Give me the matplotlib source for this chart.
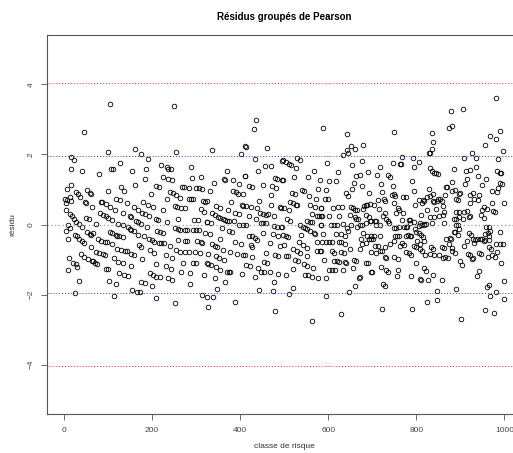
import matplotlib
matplotlib.use('Agg')
import matplotlib.pyplot as plt
import numpy as np

plt.rcParams['font.family'] = ['Liberation Sans', 'DejaVu Sans']

# --- Texts / reference values ---
TITLE = 'Résidus groupés de Pearson'
XLABEL = 'classe de risque'
YLABEL = 'résidu'
X_TICKS = [0, 200, 400, 600, 800, 1000]
Y_TICKS = [-4, -2, 0, 2, 4]
SEUIL_BLEU = 1.96
SEUIL_ROUGE = 4.05

# --- (classe, residu), by slices of classes ---
pts_0_65 = [(45, 2.63), (17, 1.92), (23, 1.83), (17, 1.58), (42, 1.52), (15, 1.14), (7, 1.00), (27, 0.93), (31, 0.86),
            (36, 0.79), (52, 0.99), (58, 0.91), (61, 0.88), (2, 0.73), (7, 0.70), (13, 0.78), (17, 0.67), (5, 0.60),
            (48, 0.63), (50, 0.60), (63, 0.50), (4, 0.40), (14, 0.30), (19, 0.23), (23, 0.15), (51, 0.19), (56, 0.17),
            (28, 0.07), (34, 0.01), (40, -0.06), (10, -0.01), (14, -0.10), (5, -0.19), (52, -0.21), (58, -0.26),
            (61, -0.29), (25, -0.30), (30, -0.33), (34, -0.40), (40, -0.46), (45, -0.53), (8, -0.40), (61, -0.65),
            (39, -0.84), (46, -0.93), (55, -0.99), (63, -1.05), (11, -0.95), (21, -1.09), (28, -1.14), (30, -1.20),
            (8, -1.31), (34, -1.60), (24, -1.96)]
pts_65_150 = [(104, 3.43), (101, 2.06), (107, 1.58), (111, 1.58), (127, 1.77), (80, 1.45), (99, 0.95), (130, 1.07),
              (137, 0.97), (142, 0.61), (119, 0.72), (127, 0.70), (83, 0.65), (87, 0.65), (96, 0.59), (105, 0.51),
              (116, 0.42), (134, 0.32), (81, 0.32), (89, 0.27), (96, 0.23), (101, 0.19), (108, 0.13), (151, 0.23),
              (72, 0.02), (122, 0.02), (133, 0.00), (145, -0.08), (149, -0.13), (66, -0.25), (77, -0.40), (84, -0.46),
              (92, -0.50), (98, -0.50), (104, -0.21), (110, -0.25), (117, -0.30), (120, -0.34), (125, -0.34),
              (134, -0.36), (110, -0.57), (120, -0.69), (130, -0.72), (139, -0.76), (143, -0.76), (72, -0.78),
              (80, -0.80), (89, -0.84), (93, -0.86), (114, -0.97), (122, -1.07), (133, -1.09), (66, -1.05),
              (70, -1.09), (75, -1.12), (95, -1.26), (101, -1.26), (124, -1.39), (137, -1.45), (145, -1.47),
              (102, -1.62), (117, -1.71), (114, -2.04)]
pts_150_240 = [(161, 2.15), (175, 2.00), (190, 1.87), (221, 1.71), (234, 1.64), (237, 1.58), (155, 1.54), (187, 1.58),
               (225, 1.35), (183, 1.30), (237, 1.30), (161, 1.14), (208, 1.10), (216, 1.07), (198, 0.86), (233, 0.72),
               (180, 0.65), (190, 0.57), (202, 0.50), (158, 0.50), (168, 0.42), (177, 0.32), (184, 0.30), (193, 0.23),
               (224, 0.42), (152, 0.21), (208, 0.15), (213, 0.13), (164, 0.11), (169, 0.06), (174, 0.02), (189, -0.06),
               (234, 0.06), (152, -0.15), (158, -0.19), (169, -0.29), (181, -0.34), (193, -0.42), (199, -0.44),
               (205, -0.50), (211, -0.19), (218, -0.21), (224, -0.25), (216, -0.53), (221, -0.53), (228, -0.53),
               (171, -0.59), (175, -0.65), (195, -0.72), (205, -0.82), (152, -0.84), (160, -0.88), (178, -0.99),
               (231, -0.88), (152, -1.18), (210, -1.14), (231, -1.18), (195, -1.39), (201, -1.45), (210, -1.49),
               (218, -1.49), (236, -1.52), (175, -1.64), (183, -1.66), (199, -1.77), (155, -1.87), (166, -1.92),
               (172, -1.94), (208, -2.11)]
pts_240_325 = [(249, 3.39), (254, 2.08), (242, 1.58), (289, 1.64), (245, 1.26), (290, 1.33), (310, 1.35), (267, 1.07),
               (272, 1.07), (283, 1.05), (299, 1.05), (307, 1.03), (313, 1.01), (240, 0.93), (248, 0.91), (254, 0.84),
               (264, 0.76), (283, 0.74), (289, 0.74), (293, 0.74), (316, 0.67), (320, 0.65), (251, 0.53), (257, 0.50),
               (266, 0.46), (274, 0.46), (310, 0.44), (319, 0.36), (260, 0.17), (295, 0.13), (304, 0.13), (324, 0.06),
               (252, -0.10), (258, -0.13), (264, -0.15), (274, -0.15), (280, -0.15), (293, -0.17), (299, -0.17),
               (307, -0.17), (320, -0.25), (260, -0.44), (274, -0.46), (280, -0.48), (302, -0.48), (310, -0.50),
               (314, -0.53), (240, -0.61), (255, -0.72), (264, -0.78), (275, -0.78), (284, -0.78), (298, -0.78),
               (308, -0.80), (246, -0.95), (270, -1.09), (293, -1.09), (299, -1.09), (324, -1.10), (242, -1.26),
               (266, -1.37), (286, -1.39), (319, -1.45), (246, -1.58), (287, -1.70), (313, -2.00), (324, -2.08),
               (252, -2.25)]
pts_325_410 = [(337, 2.13), (401, 2.02), (410, 2.23), (369, 1.54), (364, 1.31), (366, 1.28), (383, 1.26), (398, 1.16),
               (340, 1.18), (410, 1.39), (331, 0.95), (384, 0.95), (390, 0.93), (395, 0.88), (407, 0.86), (325, 0.67),
               (380, 0.65), (346, 0.53), (355, 0.48), (404, 0.55), (407, 0.53), (372, 0.40), (336, 0.34), (342, 0.27),
               (349, 0.21), (354, 0.19), (360, 0.17), (366, 0.13), (371, 0.11), (374, 0.10), (389, 0.32), (398, 0.29),
               (325, 0.06), (334, 0.04), (386, 0.10), (398, 0.00), (407, -0.02), (358, -0.11), (375, -0.19),
               (381, -0.21), (331, -0.27), (355, -0.42), (389, -0.50), (402, -0.55), (337, -0.55), (342, -0.61),
               (348, -0.65), (360, -0.72), (378, -0.78), (392, -0.84), (407, -0.86), (328, -0.84), (345, -0.91),
               (352, -0.97), (363, -1.01), (328, -1.14), (334, -1.16), (345, -1.22), (355, -1.30), (371, -1.35),
               (375, -1.35), (378, -1.35), (404, -1.41), (343, -1.52), (366, -1.64), (348, -1.85), (339, -2.08),
               (389, -2.21), (327, -2.36)]
pts_410_497 = [(436, 2.97), (431, 2.72), (460, 2.19), (414, 2.21), (496, 1.81), (434, 1.87), (457, 1.66), (469, 1.66),
               (440, 1.52), (411, 1.39), (478, 1.33), (484, 1.30), (495, 1.28), (419, 1.09), (427, 1.07), (452, 1.12),
               (472, 1.10), (481, 1.03), (471, 0.84), (443, 0.67), (469, 0.55), (490, 0.50), (493, 0.48), (414, 0.53),
               (425, 0.50), (439, 0.46), (446, 0.34), (452, 0.29), (458, 0.27), (464, 0.29), (477, 0.25), (419, 0.25),
               (436, 0.17), (413, -0.02), (448, 0.04), (452, 0.04), (458, 0.04), (477, -0.04), (484, -0.06),
               (492, -0.06), (495, -0.06), (421, -0.32), (427, -0.32), (433, -0.38), (439, -0.44), (451, -0.25),
               (475, -0.27), (487, -0.32), (468, -0.53), (424, -0.59), (428, -0.63), (490, -0.61), (411, -0.88),
               (428, -0.93), (458, -0.80), (480, -0.86), (486, -0.90), (414, -1.16), (422, -1.18), (455, -1.07),
               (461, -1.10), (440, -1.24), (448, -1.35), (454, -1.35), (468, -1.35), (486, -1.41), (434, -1.49),
               (477, -1.64), (442, -1.87), (474, -1.90), (478, -2.48)]
pts_497_584 = [(498, 1.83), (505, 1.79), (511, 1.73), (516, 1.70), (528, 1.89), (536, 1.85), (527, 1.62), (567, 1.54),
               (522, 1.37), (554, 1.37), (581, 1.26), (498, 1.28), (577, 1.01), (540, 0.99), (545, 0.95), (517, 0.90),
               (525, 0.86), (557, 0.80), (572, 0.74), (514, 0.65), (520, 0.61), (527, 0.55), (530, 0.55), (558, 0.55),
               (569, 0.51), (499, 0.46), (511, 0.40), (583, 0.48), (564, 0.29), (574, 0.25), (578, 0.25), (583, 0.25),
               (507, 0.15), (513, 0.11), (552, 0.10), (558, 0.08), (563, 0.06), (536, 0.00), (583, 0.00), (543, -0.08),
               (548, -0.11), (552, -0.13), (558, -0.19), (567, -0.23), (570, -0.27), (539, -0.29), (498, -0.30),
               (504, -0.34), (508, -0.36), (574, -0.51), (534, -0.50), (542, -0.59), (552, -0.67), (499, -0.59),
               (519, -0.70), (530, -0.76), (537, -0.82), (575, -0.76), (581, -0.76), (504, -0.90), (508, -0.91),
               (551, -0.91), (524, -1.01), (531, -1.05), (545, -1.12), (551, -1.18), (520, -1.26), (566, -1.24),
               (504, -1.43), (548, -1.43), (555, -1.45), (563, -1.49), (577, -1.52), (519, -1.81), (510, -1.98),
               (564, -2.76)]
pts_584_670 = [(589, 2.76), (643, 2.59), (651, 2.25), (642, 2.13), (645, 2.04), (661, 2.15), (634, 1.98), (655, 1.70),
               (598, 1.77), (622, 1.49), (664, 1.39), (602, 1.24), (617, 1.24), (658, 1.18), (595, 0.99), (654, 1.01),
               (640, 0.90), (646, 0.80), (592, 0.74), (599, 0.74), (584, 0.48), (611, 0.48), (622, 0.50), (631, 0.50),
               (652, 0.51), (657, 0.46), (661, 0.42), (666, 0.42), (624, 0.25), (586, 0.25), (602, 0.23), (649, 0.27),
               (660, 0.21), (663, 0.17), (667, 0.15), (584, 0.00), (607, -0.02), (613, -0.02), (620, -0.02),
               (633, 0.02), (652, 0.00), (666, -0.06), (642, -0.11), (645, -0.19), (589, -0.27), (617, -0.27),
               (630, -0.27), (639, -0.32), (586, -0.51), (596, -0.51), (602, -0.51), (608, -0.51), (625, -0.51),
               (628, -0.51), (637, -0.55), (584, -0.76), (608, -0.76), (614, -0.80), (630, -0.78), (636, -0.82),
               (649, -0.70), (590, -1.01), (614, -1.03), (619, -1.03), (625, -1.07), (639, -1.07), (640, -1.10),
               (658, -1.01), (664, -1.05), (601, -1.30), (608, -1.30), (616, -1.30), (634, -1.30), (657, -1.24),
               (669, -1.52), (595, -1.52), (661, -1.77), (648, -1.92), (596, -2.04), (630, -2.55)]
pts_670_1000_pos = [(679, 2.28), (677, 1.82), (691, 1.50), (673, 1.40), (677, 1.11), (692, 0.89), (685, 0.57),
                    (689, 0.57), (694, 0.58), (679, 0.43), (705, 0.56), (714, 0.70), (715, 0.43), (711, 1.40),
                    (717, 1.63), (720, 1.16), (721, 0.93), (726, 0.72), (729, 0.68), (730, 0.32), (706, 0.10),
                    (736, 1.42), (741, 1.37), (747, 1.09), (749, 2.65), (752, 0.81), (750, 0.62), (758, 0.47),
                    (761, 0.41), (747, 1.75), (762, 1.73), (765, 1.73), (768, 1.94), (770, 0.79), (776, 0.79),
                    (770, 0.34), (783, 0.13), (786, 0.13), (791, 1.23), (794, 1.65), (792, 1.90), (794, 0.96),
                    (797, 0.56), (805, 1.78), (806, 0.70), (812, 0.60), (815, 0.70), (811, 0.27), (818, 0.68),
                    (824, 0.79), (824, 0.40), (829, 2.05), (832, 2.03), (835, 2.16), (838, 2.36), (835, 2.62),
                    (830, 1.61), (836, 1.52), (841, 1.48), (845, 1.48), (850, 1.44), (829, 1.00), (832, 0.81),
                    (838, 0.66), (841, 0.64), (847, 0.66), (839, 0.87), (844, 0.43), (850, 0.72), (854, 0.72),
                    (858, 0.66), (861, 0.53), (867, 1.08), (870, 1.08), (865, 0.83), (862, 0.36), (874, 2.75),
                    (879, 3.25), (882, 2.80), (882, 1.21), (885, 1.58), (882, 0.95), (888, 0.98), (891, 0.74),
                    (894, 0.70), (897, 0.87), (900, 0.91), (889, 0.36), (896, 0.36), (905, 3.31), (908, 1.90),
                    (912, 1.54), (914, 1.29), (911, 1.16), (909, 0.36), (914, 0.38), (921, 1.56), (926, 2.05),
                    (923, 0.85), (923, 0.62), (929, 0.91), (932, 0.72), (941, 0.70), (935, 1.90), (936, 1.65),
                    (939, 1.39), (942, 0.85), (949, 1.12), (949, 0.41), (953, 0.49), (958, 1.29), (961, 0.43),
                    (955, 2.28), (968, 2.53), (973, 0.95), (971, 0.62), (974, 0.39), (979, 0.36), (982, 3.60),
                    (982, 2.45), (991, 2.66), (985, 1.86), (996, 2.11), (983, 1.54), (989, 1.48), (992, 1.46),
                    (985, 1.04), (989, 1.18), (994, 1.16), (983, 0.93), (999, 0.60), (923, 0.24), (920, 0.20),
                    (947, 0.28), (953, 0.19), (896, 0.20), (905, 0.17), (886, 0.17), (891, 0.17), (852, 0.24),
                    (861, 0.26), (832, 0.22), (841, 0.20), (809, 0.05), (817, 0.01), (821, 0.01), (785, 0.03),
                    (794, 0.07), (755, 0.32), (768, 0.13), (732, 0.15), (736, 0.11), (724, 0.24), (744, 0.85),
                    (750, 0.87), (686, 0.28), (692, 0.20), (697, 0.09), (709, 0.10), (682, 0.53)]
pts_670_1000_neg = [(673, -0.02), (677, 0.00), (685, 0.05), (694, 0.09), (709, -0.01), (718, -0.02), (739, 0.03),
                    (749, -0.10), (753, -0.10), (761, -0.06), (771, -0.08), (776, -0.08), (779, -0.08), (805, -0.04),
                    (811, 0.00), (817, -0.02), (836, 0.05), (862, 0.05), (891, 0.00), (894, -0.02), (958, -0.06),
                    (965, -0.08), (679, -0.25), (688, -0.33), (697, -0.33), (703, -0.33), (717, -0.33), (674, -0.42),
                    (692, -0.42), (697, -0.42), (702, -0.42), (686, -0.54), (677, -0.56), (706, -0.61), (712, -0.61),
                    (673, -0.71), (697, -0.79), (708, -0.82), (717, -0.77), (721, -0.75), (730, -0.63), (729, -0.92),
                    (732, -0.96), (752, -0.33), (756, -0.33), (761, -0.33), (749, -0.46), (762, -0.60), (741, -0.56),
                    (749, -0.92), (758, -0.99), (756, -1.47), (732, -1.30), (736, -1.36), (720, -1.21), (685, -1.11),
                    (691, -1.11), (697, -1.36), (700, -1.36), (673, -1.49), (724, -1.70), (730, -1.76), (723, -2.42),
                    (759, -1.30), (776, -0.33), (782, -0.29), (785, -0.33), (788, -0.33), (767, -0.54), (773, -0.58),
                    (777, -0.79), (783, -0.80), (788, -0.86), (802, -0.48), (808, -0.56), (795, -0.60), (799, -0.63),
                    (797, -0.14), (800, -0.21), (806, -0.25), (811, -0.31), (815, -0.37), (817, -0.46), (809, -0.69),
                    (812, -0.75), (820, -0.86), (800, -1.09), (809, -1.55), (811, -1.59), (789, -1.47), (791, -2.41),
                    (817, -1.24), (821, -1.32), (827, -1.59), (824, -2.21), (833, -0.65), (838, -0.71), (832, -0.84),
                    (841, -0.88), (852, -0.86), (839, -1.45), (846, -1.89), (847, -2.16), (859, -1.59), (861, -0.96),
                    (865, -0.94), (871, -0.96), (868, -0.40), (876, -0.39), (879, -0.40), (858, -0.65), (862, -0.67),
                    (874, -0.56), (880, -0.67), (882, -0.77), (888, -0.80), (885, -0.21), (888, -0.21), (894, -0.29),
                    (897, -0.14), (900, -1.03), (903, -1.17), (891, -1.85), (902, -2.69), (908, -0.60), (917, -0.84),
                    (921, -0.86), (920, -0.25), (924, -0.29), (914, -0.46), (929, -0.42), (933, -0.44), (938, -0.41),
                    (926, -0.99), (929, -0.96), (932, -0.54), (942, -0.82), (946, -0.84), (944, -0.42), (949, -0.42),
                    (938, -1.47), (942, -1.32), (956, -2.44), (961, -1.78), (964, -1.72), (967, -2.04), (965, -0.63),
                    (962, -0.92), (955, -0.27), (962, -0.23), (967, -0.19), (964, -0.33), (965, -0.44), (953, -0.46),
                    (956, -0.44), (970, -0.69), (976, -2.54), (980, -1.93), (982, -0.56), (989, -0.56), (996, -0.56),
                    (983, -0.79), (989, -0.21), (992, -1.11), (999, -1.61), (999, -2.12), (973, -0.88), (979, -0.92)]

all_pts = (pts_0_65 + pts_65_150 + pts_150_240 + pts_240_325 + pts_325_410 + pts_410_497
           + pts_497_584 + pts_584_670 + pts_670_1000_pos + pts_670_1000_neg)
classe = np.array([p[0] for p in all_pts], dtype=float)
residu = np.array([p[1] for p in all_pts], dtype=float)

# --- Figure (R-like base graphics look) ---
W, H = 513, 453
fig = plt.figure(figsize=(W / 100, H / 100), dpi=100)
ax = fig.add_axes([47 / W, 39 / H, 475 / W, 379 / H])

ax.plot(classe, residu, ls='', marker='o', ms=3.3, mfc='none', mec='black', mew=0.6)

dots = (0, (1, 2))
ax.axhline(0, color='#999999', ls=dots, lw=0.9)
ax.axhline(SEUIL_BLEU, color='#3333ff', ls=dots, lw=0.7)
ax.axhline(-SEUIL_BLEU, color='#3333ff', ls=dots, lw=0.7)
ax.axhline(SEUIL_ROUGE, color='#ff2222', ls=dots, lw=0.7)
ax.axhline(-SEUIL_ROUGE, color='#ff2222', ls=dots, lw=0.7)

ax.set_xlim(-38.6, 1040)
ax.set_ylim(-5.41, 5.41)
ax.set_xticks(X_TICKS)
ax.set_yticks(Y_TICKS)
ax.tick_params(length=4, width=0.6, color='#555555', labelsize=6, labelcolor='#444444', pad=5)
for lab in ax.get_yticklabels():
    lab.set_rotation(90)
    lab.set_va('center')
for sp in ax.spines.values():
    sp.set_color('#555555')
    sp.set_linewidth(0.8)

fig.text(284.5 / W, 1 - 17 / H, TITLE, ha='center', va='center', fontsize=7, fontweight='bold')
fig.text(284.5 / W, 1 - 446 / H, XLABEL, ha='center', va='center', fontsize=6, color='#333333')
fig.text(13 / W, 1 - 224.5 / H, YLABEL, ha='center', va='center', fontsize=6, color='#333333', rotation=90)

fig.savefig('out.png', dpi=100)
